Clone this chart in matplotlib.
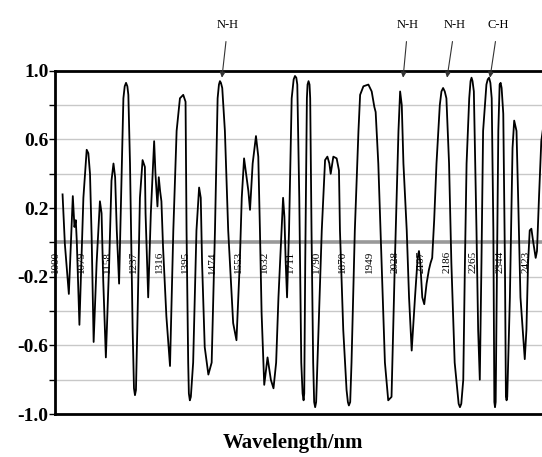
import matplotlib.pyplot as plt
from matplotlib.ticker import MultipleLocator

# spectrum (wavelength nm, value)
wl = [1022, 1029, 1041, 1053, 1058, 1062, 1065, 1073, 1085, 1095, 1100, 1105, 1110, 1116,
      1125, 1135, 1140, 1145, 1153, 1163, 1170, 1176, 1181, 1186, 1193, 1199, 1206, 1210,
      1214, 1218, 1221, 1226, 1234, 1238, 1241, 1244, 1248, 1256, 1264, 1271, 1273, 1281,
      1289, 1299, 1303, 1309, 1313, 1317, 1321, 1326, 1336, 1347, 1357, 1367, 1377, 1387,
      1394, 1397, 1402, 1404, 1407, 1410, 1417, 1427, 1435, 1440, 1444, 1452, 1463, 1473,
      1483, 1491, 1495, 1498, 1501, 1505, 1513, 1523, 1538, 1548, 1558, 1564, 1571, 1577,
      1584, 1589, 1597, 1607, 1614, 1619, 1624, 1632, 1642, 1652, 1660, 1668, 1675, 1682,
      1689, 1693, 1697, 1701, 1707, 1715, 1721, 1725, 1729, 1732, 1738, 1744, 1748, 1751,
      1753, 1756, 1761, 1763, 1766, 1769, 1771, 1775, 1780, 1783, 1786, 1789, 1796, 1806,
      1816, 1823, 1829, 1833, 1841, 1851, 1858, 1861, 1871, 1881, 1885, 1888, 1892, 1896,
      1906, 1917, 1922, 1932, 1947, 1957, 1965, 1969, 1977, 1987, 1997, 2007, 2017, 2027,
      2038, 2043, 2048, 2053, 2063, 2070, 2078, 2088, 2096, 2100, 2104, 2110, 2116, 2123,
      2130, 2135, 2140, 2146, 2153, 2163, 2168, 2173, 2178, 2183, 2191, 2198, 2208, 2220,
      2224, 2228, 2234, 2239, 2244, 2252, 2256, 2259, 2262, 2266, 2274, 2279, 2284, 2289,
      2294, 2304, 2308, 2312, 2316, 2320, 2325, 2328, 2330, 2332, 2335, 2340, 2344, 2347,
      2350, 2355, 2360, 2363, 2365, 2367, 2375, 2383, 2388, 2395, 2400, 2407, 2420, 2425,
      2430, 2435, 2440, 2445, 2453, 2457, 2463, 2470, 2477]
val = [0.28, -0.01, -0.30, 0.27, 0.09, 0.13, 0.01, -0.48, 0.26, 0.54, 0.52, 0.40, 0.03, -0.58,
       -0.12, 0.24, 0.17, -0.22, -0.67, -0.12, 0.36, 0.46, 0.38, 0.07, -0.24, 0.26, 0.84, 0.91,
       0.93, 0.91, 0.86, 0.46, -0.51, -0.85, -0.89, -0.86, -0.51, 0.26, 0.48, 0.44, 0.17, -0.32,
       0.17, 0.59, 0.40, 0.21, 0.38, 0.30, 0.24, -0.03, -0.43, -0.72, 0.07, 0.65, 0.84, 0.86,
       0.82, 0.07, -0.70, -0.88, -0.92, -0.90, -0.70, 0.07, 0.32, 0.26, -0.12, -0.61, -0.77, -0.70,
       0.07, 0.84, 0.92, 0.94, 0.93, 0.90, 0.65, 0.07, -0.47, -0.57, -0.12, 0.26, 0.49, 0.40,
       0.30, 0.19, 0.46, 0.62, 0.50, 0.07, -0.41, -0.83, -0.67, -0.80, -0.85, -0.70, -0.32, -0.03,
       0.26, 0.15, -0.12, -0.32, 0.07, 0.84, 0.95, 0.97, 0.96, 0.92, 0.26, -0.70, -0.88, -0.92,
       -0.88, -0.12, 0.84, 0.92, 0.94, 0.92, 0.84, 0.07, -0.70, -0.93, -0.96, -0.93, -0.51, 0.07,
       0.48, 0.50, 0.46, 0.40, 0.50, 0.49, 0.42, 0.07, -0.51, -0.86, -0.93, -0.95, -0.93, -0.70,
       0.07, 0.65, 0.86, 0.91, 0.92, 0.88, 0.79, 0.76, 0.46, -0.12, -0.70, -0.92, -0.90, -0.12,
       0.65, 0.88, 0.80, 0.46, 0.07, -0.32, -0.63, -0.32, -0.09, -0.05, -0.12, -0.32, -0.36, -0.24,
       -0.16, -0.12, -0.09, 0.13, 0.46, 0.80, 0.88, 0.90, 0.88, 0.84, 0.46, -0.12, -0.70, -0.94,
       -0.96, -0.94, -0.80, -0.12, 0.46, 0.84, 0.94, 0.96, 0.94, 0.88, 0.07, -0.51, -0.80, -0.12,
       0.65, 0.92, 0.95, 0.96, 0.93, 0.84, 0.07, -0.93, -0.96, -0.93, -0.32, 0.65, 0.92, 0.93,
       0.90, 0.75, -0.12, -0.90, -0.92, -0.90, -0.32, 0.55, 0.71, 0.65, 0.26, -0.32, -0.68, -0.51,
       -0.12, 0.07, 0.08, 0.01, -0.09, -0.05, 0.26, 0.59, 0.69]

tick_wl = [1000, 1079, 1158, 1237, 1316, 1395, 1474, 1553, 1632, 1711,
           1790, 1870, 1949, 2028, 2107, 2186, 2265, 2344, 2423]

band_labels = ['N-H', 'N-H', 'N-H', 'C-H']
band_tip = [1504, 2052, 2185, 2315]
band_text = [1522, 2067, 2209, 2339]

fig = plt.figure(figsize=(5.42, 4.57), dpi=100)
ax = fig.add_axes([0.102, 0.094, 0.915, 0.751])

ax.set_xlim(1000, 2500)
ax.set_ylim(-1.0, 1.0)

# grid every 0.2, zero line heavier
for g in [-0.8, -0.6, -0.4, -0.2, 0.2, 0.4, 0.6, 0.8]:
    ax.axhline(g, color='#c8c8c8', lw=1.0, zorder=1)
ax.axhline(0, color='#999999', lw=2.6, zorder=1)

ax.plot(wl, val, color='black', lw=1.3, zorder=3)

ax.yaxis.set_minor_locator(MultipleLocator(0.2))
ax.set_yticks([1.0, 0.6, 0.2, -0.2, -0.6, -1.0])
ax.set_yticklabels(['1.0', '0.6', '0.2', '-0.2', '-0.6', '-1.0'],
                   fontfamily='Liberation Serif', fontweight='bold', fontsize=14)
ax.tick_params(axis='y', which='major', length=4, width=1, pad=1)
ax.tick_params(axis='y', which='minor', length=4, width=1)
ax.set_xticks([])

for s in ['left', 'top', 'bottom', 'right']:
    ax.spines[s].set_linewidth(2)

# wavelength labels sit inside the plot under the zero line
for t in tick_wl:
    ax.text(t, -0.05, str(t), rotation=90, ha='center', va='top',
            fontsize=8, fontfamily='Liberation Serif', zorder=2)

for lab, tip, tx in zip(band_labels, band_tip, band_text):
    ax.annotate(lab, xy=(tip, 0.96), xytext=(tx, 1.27),
                ha='center', va='center', fontsize=9, fontfamily='Liberation Serif',
                annotation_clip=False,
                arrowprops=dict(arrowstyle='-|>', color='#333333', lw=0.8,
                                mutation_scale=8, shrinkA=6, shrinkB=0))

fig.text(293 / 542, 1 - 443 / 457, 'Wavelength/nm', ha='center', va='center',
         fontsize=15, fontweight='bold', fontfamily='Liberation Serif')

fig.savefig('out.png', dpi=100)
